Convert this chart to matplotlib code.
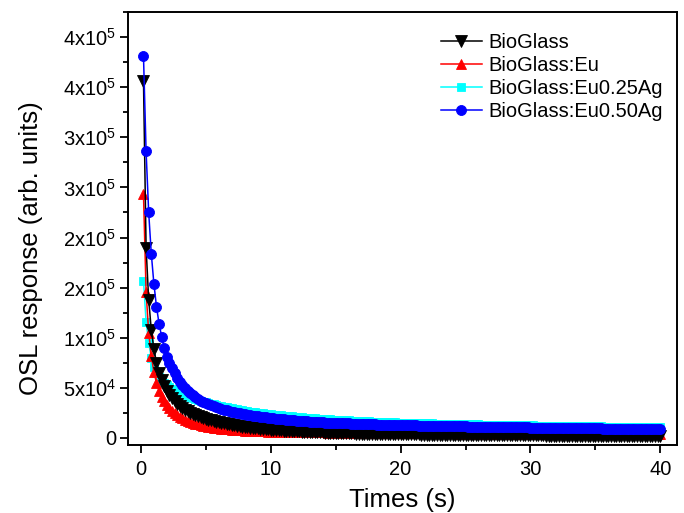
import numpy as np
import matplotlib
matplotlib.use("Agg")
import matplotlib.pyplot as plt
from matplotlib.ticker import FixedLocator, MultipleLocator

plt.rcParams["font.family"] = ["Liberation Sans", "DejaVu Sans"]
plt.rcParams["mathtext.default"] = "regular"

# acquisition channels: 200 readings, 0.2 s apart
time_step = 0.2
n_channels = 200
times = np.round(np.arange(1, n_channels + 1) * time_step, 1)

# OSL readout, in units of 1e3 counts
bioglass = [
    356, 190, 138, 108, 89, 75, 65, 58, 52, 47,
    43, 39.5, 36.5, 34, 32, 30, 28.2, 26.6, 25.2, 24,
    22.8, 21.8, 20.8, 19.9, 19.0, 18.2, 17.5, 16.8, 16.1, 15.5,
    15.0, 14.5, 14.0, 13.5, 13.0, 12.6, 12.2, 11.8, 11.4, 11.0,
    10.7, 10.4, 10.1, 9.8, 9.5, 9.2, 9.0, 8.7, 8.5, 8.3,
    8.1, 7.9, 7.7, 7.6, 7.4, 7.2, 7.1, 6.9, 6.8, 6.6,
    6.5, 6.4, 6.3, 6.1, 6.0, 5.9, 5.8, 5.7, 5.6, 5.5,
    5.4, 5.3, 5.2, 5.1, 5.0, 4.9, 4.9, 4.8, 4.7, 4.6,
    4.6, 4.5, 4.4, 4.4, 4.3, 4.2, 4.2, 4.1, 4.1, 4.0,
    4.0, 3.9, 3.9, 3.9, 3.8, 3.8, 3.8, 3.7, 3.7, 3.7,
    3.6, 3.6, 3.6, 3.5, 3.5, 3.5, 3.5, 3.4, 3.4, 3.4,
    3.3, 3.3, 3.3, 3.3, 3.2, 3.2, 3.2, 3.2, 3.1, 3.1,
    3.1, 3.1, 3.0, 3.0, 3.0, 3.0, 3.0, 2.9, 2.9, 2.9,
    2.9, 2.9, 2.8, 2.8, 2.8, 2.8, 2.8, 2.7, 2.7, 2.7,
    2.7, 2.7, 2.7, 2.6, 2.6, 2.6, 2.6, 2.6, 2.6, 2.5,
    2.5, 2.5, 2.5, 2.5, 2.5, 2.4, 2.4, 2.4, 2.4, 2.4,
    2.4, 2.4, 2.3, 2.3, 2.3, 2.3, 2.3, 2.3, 2.3, 2.2,
    2.2, 2.2, 2.2, 2.2, 2.2, 2.2, 2.2, 2.1, 2.1, 2.1,
    2.1, 2.1, 2.1, 2.1, 2.1, 2.1, 2.0, 2.0, 2.0, 2.0,
    2.0, 2.0, 2.0, 2.0, 2.0, 1.9, 1.9, 1.9, 1.9, 1.9,
]
bioglass_eu = [
    243, 146, 105, 82, 66, 55, 47, 41, 36.5, 32.5,
    29.5, 27, 24.8, 22.8, 21.0, 19.5, 18.2, 17.0, 16.0, 15.0,
    14.2, 13.5, 12.9, 12.3, 11.8, 11.3, 10.8, 10.4, 10.0, 9.6,
    9.3, 9.0, 8.8, 8.6, 8.4, 8.2, 8.0, 7.8, 7.6, 7.4,
    7.3, 7.2, 7.0, 6.9, 6.8, 6.7, 6.6, 6.5, 6.4, 6.3,
    6.3, 6.2, 6.2, 6.1, 6.1, 6.0, 6.0, 5.9, 5.9, 5.8,
    5.8, 5.8, 5.7, 5.7, 5.7, 5.6, 5.6, 5.6, 5.5, 5.5,
    5.5, 5.4, 5.4, 5.4, 5.3, 5.3, 5.3, 5.3, 5.2, 5.2,
    5.2, 5.2, 5.1, 5.1, 5.1, 5.1, 5.0, 5.0, 5.0, 5.0,
    5.0, 4.9, 4.9, 4.9, 4.9, 4.9, 4.8, 4.8, 4.8, 4.8,
    4.8, 4.8, 4.7, 4.7, 4.7, 4.7, 4.7, 4.7, 4.6, 4.6,
    4.6, 4.6, 4.6, 4.6, 4.6, 4.5, 4.5, 4.5, 4.5, 4.5,
    4.5, 4.5, 4.4, 4.4, 4.4, 4.4, 4.4, 4.4, 4.4, 4.3,
    4.3, 4.3, 4.3, 4.3, 4.3, 4.3, 4.3, 4.2, 4.2, 4.2,
    4.2, 4.2, 4.2, 4.2, 4.2, 4.1, 4.1, 4.1, 4.1, 4.1,
    4.1, 4.1, 4.1, 4.1, 4.0, 4.0, 4.0, 4.0, 4.0, 4.0,
    4.0, 4.0, 4.0, 3.9, 3.9, 3.9, 3.9, 3.9, 3.9, 3.9,
    3.9, 3.9, 3.8, 3.8, 3.8, 3.8, 3.8, 3.8, 3.8, 3.8,
    3.8, 3.8, 3.7, 3.7, 3.7, 3.7, 3.7, 3.7, 3.7, 3.7,
    3.7, 3.7, 3.7, 3.6, 3.6, 3.6, 3.6, 3.6, 3.6, 3.6,
]
bioglass_eu025ag = [
    157, 116, 95, 80, 71, 65, 60.5, 57, 54.5, 52.5,
    50.5, 49, 47.5, 46.2, 45, 43.8, 42.6, 41.5, 40.5, 39.5,
    38.7, 37.9, 37.1, 36.3, 35.5, 34.8, 34.1, 33.4, 32.7, 32.0,
    31.5, 31.0, 30.5, 30.0, 29.5, 29.0, 28.5, 28.1, 27.6, 27.2,
    26.8, 26.4, 26.0, 25.6, 25.3, 25.0, 24.6, 24.3, 24.0, 23.7,
    23.4, 23.1, 22.8, 22.6, 22.3, 22.0, 21.8, 21.5, 21.3, 21.0,
    20.8, 20.6, 20.4, 20.2, 20.0, 19.8, 19.6, 19.4, 19.2, 19.0,
    18.9, 18.7, 18.5, 18.4, 18.2, 18.1, 17.9, 17.8, 17.7, 17.5,
    17.4, 17.3, 17.1, 17.0, 16.9, 16.8, 16.7, 16.5, 16.4, 16.3,
    16.2, 16.1, 16.0, 15.9, 15.8, 15.7, 15.6, 15.5, 15.4, 15.3,
    15.2, 15.2, 15.1, 15.0, 14.9, 14.9, 14.8, 14.7, 14.7, 14.6,
    14.5, 14.5, 14.4, 14.3, 14.3, 14.2, 14.2, 14.1, 14.0, 14.0,
    13.9, 13.9, 13.8, 13.8, 13.7, 13.7, 13.6, 13.6, 13.5, 13.5,
    13.4, 13.4, 13.3, 13.3, 13.2, 13.2, 13.1, 13.1, 13.0, 13.0,
    12.9, 12.9, 12.8, 12.8, 12.7, 12.7, 12.7, 12.6, 12.6, 12.5,
    12.5, 12.4, 12.4, 12.4, 12.3, 12.3, 12.2, 12.2, 12.2, 12.1,
    12.1, 12.0, 12.0, 12.0, 11.9, 11.9, 11.8, 11.8, 11.8, 11.7,
    11.7, 11.6, 11.6, 11.6, 11.5, 11.5, 11.5, 11.4, 11.4, 11.3,
    11.3, 11.3, 11.2, 11.2, 11.2, 11.1, 11.1, 11.0, 11.0, 11.0,
    10.9, 10.9, 10.9, 10.8, 10.8, 10.8, 10.7, 10.7, 10.7, 10.6,
]
bioglass_eu050ag = [
    381, 286, 225, 184, 154, 131, 114, 101, 90, 81,
    75, 69.5, 64.5, 60, 56, 52.8, 50, 47.3, 44.8, 42.5,
    40.6, 38.8, 37.3, 35.8, 34.5, 33.4, 32.4, 31.4, 30.4, 29.5,
    28.8, 28.1, 27.4, 26.7, 26.0, 25.5, 25.0, 24.5, 24.0, 23.5,
    23.1, 22.7, 22.3, 21.9, 21.5, 21.2, 20.9, 20.6, 20.3, 20.0,
    19.7, 19.4, 19.2, 18.9, 18.7, 18.4, 18.2, 17.9, 17.6, 17.3,
    17.1, 16.9, 16.7, 16.6, 16.4, 16.2, 16.0, 15.9, 15.7, 15.6,
    15.4, 15.3, 15.2, 15.1, 15.0, 14.9, 14.8, 14.7, 14.6, 14.5,
    14.4, 14.3, 14.2, 14.1, 14.0, 13.9, 13.8, 13.7, 13.6, 13.5,
    13.4, 13.3, 13.3, 13.2, 13.1, 13.1, 13.0, 12.9, 12.9, 12.8,
    12.7, 12.7, 12.6, 12.6, 12.5, 12.5, 12.4, 12.3, 12.3, 12.2,
    12.2, 12.1, 12.1, 12.0, 12.0, 11.9, 11.9, 11.8, 11.8, 11.7,
    11.7, 11.6, 11.6, 11.5, 11.5, 11.4, 11.4, 11.3, 11.3, 11.2,
    11.2, 11.1, 11.1, 11.0, 11.0, 11.0, 10.9, 10.9, 10.8, 10.8,
    10.8, 10.7, 10.7, 10.6, 10.6, 10.6, 10.5, 10.5, 10.5, 10.4,
    10.4, 10.3, 10.3, 10.3, 10.2, 10.2, 10.2, 10.1, 10.1, 10.0,
    10.0, 10.0, 9.9, 9.9, 9.9, 9.8, 9.8, 9.8, 9.7, 9.7,
    9.7, 9.6, 9.6, 9.6, 9.5, 9.5, 9.5, 9.4, 9.4, 9.4,
    9.3, 9.3, 9.3, 9.2, 9.2, 9.2, 9.2, 9.1, 9.1, 9.1,
    9.0, 9.0, 9.0, 9.0, 8.9, 8.9, 8.9, 8.8, 8.8, 8.8,
]

y_ticks = [0, 50000, 100000, 150000, 200000, 250000, 300000, 350000, 400000]
y_tick_labels = ["0", "5x10$^{4}$", "1x10$^{5}$", "2x10$^{5}$", "2x10$^{5}$",
                 "3x10$^{5}$", "3x10$^{5}$", "4x10$^{5}$", "4x10$^{5}$"]

# (label, values, colour, marker, size, zorder)
series = [
    ("BioGlass", bioglass, "black", "v", 8.0, 4),
    ("BioGlass:Eu", bioglass_eu, "red", "^", 7.5, 3),
    ("BioGlass:Eu0.25Ag", bioglass_eu025ag, "cyan", "s", 5.5, 2),
    ("BioGlass:Eu0.50Ag", bioglass_eu050ag, "blue", "o", 7.2, 5),
]

fig = plt.figure(figsize=(6.84, 5.13), dpi=100)
ax = fig.add_axes([0.187, 0.1326, 0.803, 0.844])

for label, values, color, marker, size, z in series:
    ax.plot(times, np.asarray(values) * 1e3, color=color, marker=marker,
            markersize=size, linewidth=1.1, markeredgewidth=0.6,
            markeredgecolor=color, label=label, zorder=z)

ax.set_xlim(-1.0, 41.3)
ax.set_ylim(-7000, 425000)

ax.xaxis.set_major_locator(MultipleLocator(10))
ax.xaxis.set_minor_locator(MultipleLocator(5))
ax.yaxis.set_major_locator(FixedLocator(y_ticks))
ax.yaxis.set_minor_locator(MultipleLocator(25000))
ax.set_yticklabels(y_tick_labels)

ax.tick_params(axis="both", which="major", direction="out", length=6,
               width=1.3, labelsize=14.5, pad=2.5)
ax.tick_params(axis="x", which="major", pad=5)
ax.tick_params(axis="both", which="minor", direction="out", length=3.5, width=1.3)
for spine in ax.spines.values():
    spine.set_linewidth(1.4)

ax.set_xlabel("Times (s)", fontsize=18.5, labelpad=6)
ax.set_ylabel("OSL response (arb. units)", fontsize=18.5)
ax.yaxis.set_label_coords(-0.154, 0.455)

leg = ax.legend(loc="upper right", bbox_to_anchor=(1.0, 0.985), frameon=False,
                fontsize=14.5, handlelength=2.0, handletextpad=0.35,
                labelspacing=0.2, borderaxespad=0.3)

fig.savefig("out.png", dpi=100)
